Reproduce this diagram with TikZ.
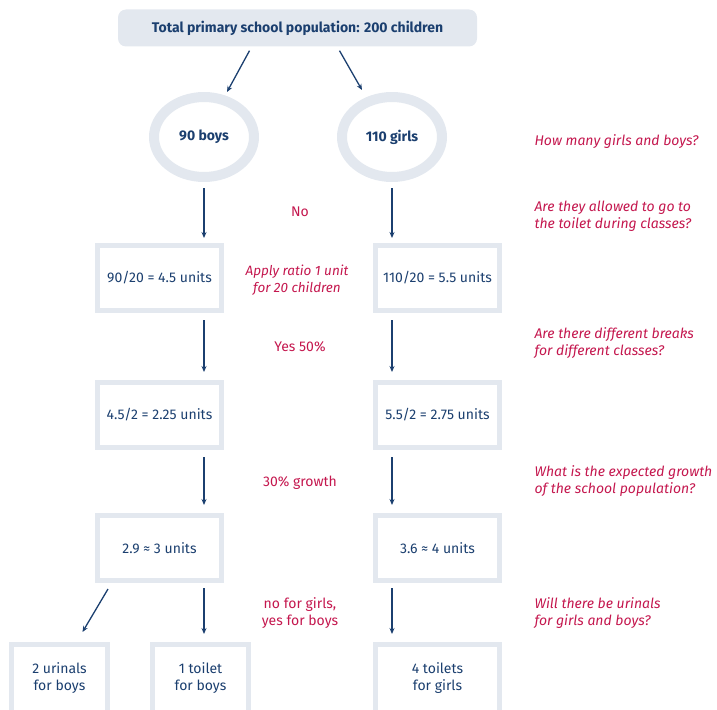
\documentclass[tikz,border=0pt]{standalone}
\usepackage{fontspec}
\setmainfont{Fira Sans}
\usetikzlibrary{arrows.meta,calc,positioning,shapes.geometric}
\definecolor{navy}{HTML}{1B3F6F}
\definecolor{crimson}{HTML}{C4174E}
\definecolor{frame}{HTML}{E3E8EF}
\tikzset{
  flow/.style={draw=navy, line width=1.3pt, -{Stealth[length=6pt,width=5pt]}},
  unitbox/.style={draw=frame, line width=5pt, fill=white, text=navy,
    align=center, minimum width=124pt, minimum height=65pt, inner sep=2pt},
  endbox/.style={unitbox, minimum width=96pt, minimum height=68pt},
  ring/.style={ellipse, draw=frame, line width=10pt, fill=white, text=navy,
    minimum width=100pt, minimum height=80pt, font=\fontsize{14}{17}\selectfont\bfseries},
  answer/.style={text=crimson, align=center},
  question/.style={text=crimson, align=left, anchor=west,
    font=\fontsize{14}{17}\selectfont\itshape},
}

\begin{document}
\begin{tikzpicture}[x=1pt, y=-1pt, every node/.style={font=\fontsize{14}{17}\selectfont}]
\useasboundingbox (0,0) rectangle (717,709);

%% columns of the arrows
\coordinate (colB) at (204,0);
\coordinate (colG) at (392,0);

%% Top: whole population
\node[fill=frame, rounded corners=8pt, text=navy, minimum width=359pt,
  minimum height=37pt, font=\fontsize{14}{17}\selectfont\bfseries]
  (total) at (297.5,28) {Total primary school population: 200 children};

%% Split into boys and girls
\node[ring] (boys) at (204,137) {90 boys};
\node[ring] (girls) at (392,137) {110 girls};
\draw[flow] ([xshift=-48pt,yshift=-4pt]total.south) -- ([xshift=23pt]boys.north);
\draw[flow] ([xshift=42pt,yshift=-4pt]total.south) -- ([xshift=-30pt,yshift=2pt]girls.north);

%% Row 1: ratio
\node[unitbox] (ratioB) at (159.5,278) {90/20 = 4.5 units};
\node[unitbox] (ratioG) at (437.5,278) {110/20 = 5.5 units};
\draw[flow, shorten <=6pt, shorten >=5pt] (boys.south) -- (ratioB.north -| colB);
\draw[flow, shorten <=6pt, shorten >=5pt] (girls.south) -- (ratioG.north -| colG);

%% Row 2: breaks
\node[unitbox] (breakB) at (159.5,415) {4.5/2 = 2.25 units};
\node[unitbox] (breakG) at (437.5,415) {5.5/2 = 2.75 units};
\draw[flow, shorten <=7pt, shorten >=8pt] (ratioB.south -| colB) -- (breakB.north -| colB);
\draw[flow, shorten <=7pt, shorten >=8pt] (ratioG.south -| colG) -- (breakG.north -| colG);

%% Row 3: growth
\node[unitbox] (growB) at (159.5,548) {2.9 ≈ 3 units};
\node[unitbox] (growG) at (437.5,548) {3.6 ≈ 4 units};
\draw[flow, shorten <=7pt, shorten >=8pt] (breakB.south -| colB) -- (growB.north -| colB);
\draw[flow, shorten <=7pt, shorten >=8pt] (breakG.south -| colG) -- (growG.north -| colG);

%% Row 4: fittings
\node[endbox] (urinals) at (59.5,678.5) {2 urinals\\for boys};
\node[endbox] (toiletB) at (200.5,678.5) {1 toilet\\for boys};
\node[endbox, minimum width=124pt] (toiletG) at (437.5,678.5) {4 toilets\\for girls};
\draw[flow] ([xshift=-51.5pt,yshift=-6pt]growB.south) -- ([xshift=23pt,yshift=10pt]urinals.north);
\draw[flow, shorten <=5pt, shorten >=8pt] (growB.south -| colB) -- (toiletB.north -| colB);
\draw[flow, shorten <=5pt, shorten >=8pt] (growG.south -| colG) -- (toiletG.north -| colG);

%% Answers between the columns
\node[answer] (no) at (300,212) {No};
\node[answer, font=\fontsize{13.5}{17}\selectfont\itshape] (ratio) at (297,280) {Apply ratio 1 unit\\for 20 children};
\node[answer] (yes) at (300,347) {Yes 50\%};
\node[answer] (growth) at (300,483) {30\% growth};
\node[answer] (urinal) at (300,613) {no for girls,\\yes for boys};

%% Questions on the right
\node[question] (q1) at (531,142) {How many girls and boys?};
\node[question] (q2) at (531,216.5) {Are they allowed to go to\\the toilet during classes?};
\node[question] (q3) at (531,343.5) {Are there different breaks\\for different classes?};
\node[question] (q4) at (531,481.5) {What is the expected growth\\of the school population?};
\node[question] (q5) at (531,613.5) {Will there be urinals\\for girls and boys?};

\end{tikzpicture}
\end{document}
